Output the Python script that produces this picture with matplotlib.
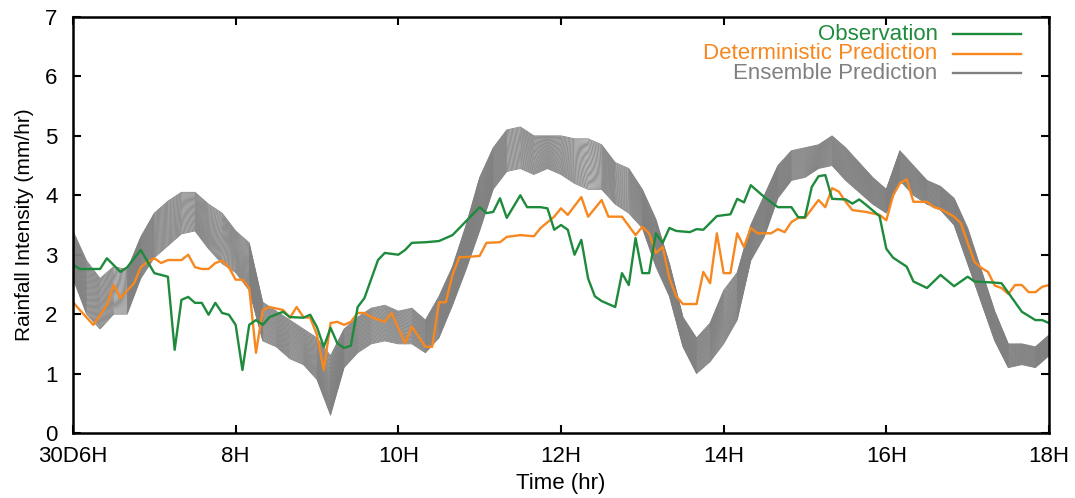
import matplotlib
matplotlib.use("Agg")
import matplotlib.pyplot as plt
import numpy as np

plt.rcParams['font.family'] = ['Liberation Sans', 'DejaVu Sans']

# observation: minutes after 06:00, rainfall (mm/hr)
obs_min = [0, 5, 20, 25, 35, 40, 50, 60, 70, 75, 80, 85, 90, 95, 100, 105, 110, 115,
           120, 125, 130, 135, 140, 145, 155, 160, 170, 175, 180, 185, 190, 195, 200,
           205, 210, 215, 225, 230, 240, 245, 250, 260, 270, 280, 300, 305, 310, 315,
           320, 330, 335, 345, 350, 355, 360, 365, 370, 375, 380, 385, 390, 395, 400,
           405, 410, 415, 420, 425, 430, 435, 440, 445, 455, 460, 465, 475, 485, 490,
           495, 500, 510, 520, 530, 535, 540, 545, 550, 555, 560, 570, 575, 580, 585,
           595, 600, 605, 615, 620, 630, 640, 650, 660, 665, 680, 685, 700, 710, 715, 720]
obs_val = [2.83, 2.76, 2.76, 2.94, 2.71, 2.79, 3.08, 2.69, 2.63, 1.40, 2.24, 2.29, 2.19,
           2.19, 1.99, 2.19, 2.02, 1.99, 1.82, 1.06, 1.82, 1.90, 1.82, 1.95, 2.04, 1.95,
           1.94, 1.99, 1.78, 1.45, 1.77, 1.51, 1.43, 1.47, 2.12, 2.27, 2.91, 3.03, 3.00,
           3.08, 3.20, 3.21, 3.23, 3.33, 3.80, 3.70, 3.72, 3.95, 3.62, 4.00, 3.80, 3.80,
           3.78, 3.42, 3.50, 3.42, 3.00, 3.25, 2.60, 2.30, 2.22, 2.17, 2.12, 2.69, 2.49,
           3.28, 2.69, 2.69, 3.36, 3.20, 3.45, 3.40, 3.38, 3.43, 3.42, 3.65, 3.68, 3.94,
           3.88, 4.17, 3.97, 3.80, 3.80, 3.63, 3.63, 4.14, 4.32, 4.34, 3.94, 3.93, 3.86,
           3.93, 3.84, 3.65, 3.10, 2.95, 2.80, 2.55, 2.44, 2.66, 2.47, 2.63, 2.55, 2.53,
           2.52, 2.04, 1.90, 1.90, 1.85]

# deterministic run
det_min = [0, 5, 15, 25, 30, 35, 45, 50, 55, 60, 65, 70, 80, 85, 90, 95, 100, 105, 110,
           115, 120, 125, 130, 135, 140, 145, 155, 160, 165, 170, 175, 180, 185, 190,
           195, 200, 205, 210, 215, 220, 230, 235, 245, 250, 260, 265, 270, 275, 280,
           285, 290, 300, 305, 315, 320, 330, 340, 345, 355, 360, 365, 375, 380, 390,
           395, 405, 415, 420, 425, 430, 435, 440, 445, 450, 460, 465, 470, 475, 480,
           485, 490, 495, 500, 505, 515, 520, 525, 530, 535, 540, 550, 555, 560, 565,
           570, 575, 585, 595, 600, 605, 610, 615, 620, 630, 635, 640, 650, 655, 660,
           665, 670, 675, 680, 685, 690, 695, 700, 705, 710, 715, 720]
det_val = [2.20, 2.07, 1.82, 2.15, 2.49, 2.27, 2.52, 2.79, 2.88, 2.94, 2.86, 2.91, 2.91,
           3.00, 2.79, 2.76, 2.76, 2.86, 2.90, 2.79, 2.58, 2.58, 2.44, 1.35, 2.07, 2.12,
           2.07, 1.94, 2.12, 1.95, 1.94, 1.65, 1.06, 1.85, 1.87, 1.82, 1.87, 2.02, 2.02,
           1.95, 1.87, 2.02, 1.51, 1.79, 1.45, 1.45, 2.20, 2.20, 2.66, 2.96, 2.96, 2.98,
           3.20, 3.21, 3.30, 3.33, 3.31, 3.45, 3.64, 3.78, 3.67, 3.97, 3.64, 3.92, 3.64,
           3.64, 3.33, 3.47, 3.36, 3.03, 3.13, 2.60, 2.30, 2.17, 2.17, 2.71, 2.52, 3.36,
           2.69, 2.69, 3.36, 3.13, 3.45, 3.36, 3.36, 3.43, 3.38, 3.55, 3.62, 3.62, 3.92,
           3.80, 4.12, 4.06, 3.89, 3.75, 3.72, 3.67, 3.58, 4.00, 4.20, 4.27, 3.89, 3.89,
           3.80, 3.77, 3.64, 3.53, 3.20, 2.88, 2.78, 2.71, 2.48, 2.44, 2.34, 2.49, 2.49,
           2.37, 2.37, 2.46, 2.49]

# ensemble spread every 10 minutes: upper / lower member envelope
ens_min = list(range(0, 721, 10))
ens_hi = [3.4, 2.9, 2.6, 2.8, 2.75, 3.3, 3.7, 3.9, 4.05, 4.05, 3.85, 3.7, 3.4, 3.2,
          2.2, 2.05, 1.9, 1.75, 1.6, 1.3, 1.75, 1.95, 2.1, 2.15, 2.05, 2.1, 1.9, 2.3,
          2.8, 3.5, 4.3, 4.8, 5.1, 5.15, 5.0, 5.0, 5.0, 4.95, 4.95, 4.85, 4.55, 4.45,
          4.1, 3.6, 2.85, 1.95, 1.6, 1.85, 2.4, 2.7, 3.5, 4.0, 4.5, 4.75, 4.8, 4.85,
          5.0, 4.8, 4.55, 4.3, 4.1, 4.75, 4.5, 4.25, 4.15, 3.95, 3.45, 2.75, 2.05, 1.5,
          1.5, 1.45, 1.65]
ens_lo = [2.6, 2.0, 1.75, 2.0, 2.0, 2.6, 2.95, 3.15, 3.35, 3.4, 3.1, 2.85, 2.7, 2.4,
          1.55, 1.45, 1.25, 1.15, 0.9, 0.3, 1.1, 1.35, 1.5, 1.55, 1.5, 1.5, 1.35, 1.6,
          2.15, 2.75, 3.4, 4.1, 4.4, 4.45, 4.35, 4.45, 4.35, 4.2, 4.1, 4.1, 3.85, 3.7,
          3.45, 2.8, 2.3, 1.45, 1.0, 1.2, 1.5, 1.9, 2.9, 3.3, 3.95, 4.25, 4.3, 4.45,
          4.5, 4.25, 4.05, 3.85, 3.7, 4.25, 4.0, 3.85, 3.75, 3.5, 2.85, 2.2, 1.55, 1.1,
          1.15, 1.1, 1.3]

tick_pos = [6, 8, 10, 12, 14, 16, 18]
tick_lab = ['30D6H', '8H', '10H', '12H', '14H', '16H', '18H']

GREEN = '#1e8a3c'
ORANGE = '#f7871f'
GRAY = '#808080'


def hours(m):
    return 6 + np.asarray(m) / 60.0


fig = plt.figure(figsize=(10.75, 4.98), dpi=100)
ax = fig.add_axes([0.0679, 0.1305, 0.9079, 0.8354])

# ensemble members spread across the envelope
lo = np.array(ens_lo)
hi = np.array(ens_hi)
for f in np.linspace(0, 1, 45):
    ax.plot(hours(ens_min), lo + f * (hi - lo), color=GRAY, lw=0.6)

ax.plot(hours(det_min), det_val, color=ORANGE, lw=1.7)
ax.plot(hours(obs_min), obs_val, color=GREEN, lw=1.7)

ax.set_xlim(6, 18)
ax.set_ylim(0, 7)
ax.set_xticks(tick_pos)
ax.set_xticklabels(tick_lab)
ax.set_yticks(range(0, 8))
ax.tick_params(direction='in', length=6, width=1.5, labelsize=16,
               top=True, right=True)
ax.tick_params(axis='x', pad=9)
ax.tick_params(axis='y', pad=11)
for s in ax.spines.values():
    s.set_linewidth(1.8)

ax.set_xlabel('Time (hr)', fontsize=16, labelpad=5)
ax.set_ylabel('Rainfall Intensity (mm/hr)', fontsize=15, labelpad=8)

# key in the top right corner: text right aligned, sample line after it
key = [('Observation', GREEN), ('Deterministic Prediction', ORANGE),
       ('Ensemble Prediction', GRAY)]
for i, (name, col) in enumerate(key):
    y = 0.9585 - i * 0.0469
    ax.text(0.886, y, name, color=col, fontsize=16, ha='right', va='center',
            transform=ax.transAxes)
    ax.plot([0.9016, 0.9713], [y, y], color=col, lw=1.7, transform=ax.transAxes)

fig.savefig('out.png', dpi=100)
